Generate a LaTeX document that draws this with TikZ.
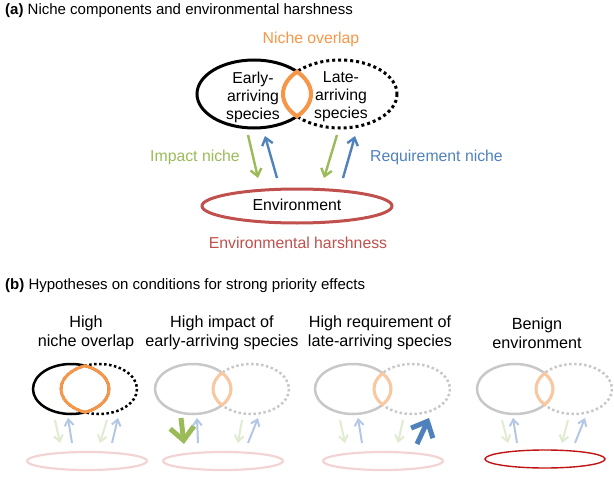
\documentclass[tikz,border=0pt]{standalone}
\usepackage{fontspec}
\setmainfont{Liberation Sans}
\usetikzlibrary{arrows.meta}
\definecolor{cgreen}{RGB}{155,187,89}
\definecolor{cblue}{RGB}{79,129,189}
\definecolor{cred}{RGB}{192,80,77}
\definecolor{corange}{RGB}{247,150,70}
\definecolor{fgray}{RGB}{200,200,200}
\definecolor{forange}{RGB}{250,200,160}
\definecolor{fgreen}{RGB}{225,235,210}
\definecolor{fblue}{RGB}{180,200,230}
\definecolor{fred}{RGB}{242,212,212}
\definecolor{dred}{RGB}{192,20,20}
\newcommand\ellpair[8]{%
  \draw[#6] (#1,#3) ellipse[x radius=#4, y radius=#5];
  \draw[#7] (#2,#3) ellipse[x radius=#4, y radius=#5];
  \pgfmathsetmacro\lensT{acos((#2-#1)/2/#4)}%
  \pgfmathsetmacro\lensM{(#1+#2)/2}%
  \pgfmathsetmacro\lensH{#5*sin(\lensT)}%
  \draw[#8] (\lensM,#3-\lensH) arc[start angle=-\lensT, end angle=\lensT, x radius=#4, y radius=#5]
     arc[start angle=180-\lensT, end angle=180+\lensT, x radius=#4, y radius=#5] -- cycle;
}
\tikzset{
  title/.style={anchor=west, inner sep=0pt, font=\fontsize{15}{17}\selectfont},
  lbl/.style={inner sep=0pt, font=\fontsize{15.8}{18}\selectfont, align=center},
  plbl/.style={inner sep=0pt, font=\fontsize{16.2}{19}\selectfont, align=center},
  bigarr/.style={line width=2.4pt, -{Straight Barb[length=7pt,width=11pt]}},
  smallarr/.style={line width=2pt, -{Straight Barb[length=6pt,width=9pt]}},
  thickarr/.style={line width=5pt, -{Straight Barb[length=13pt,width=24pt]}},
}
\begin{document}
\begin{tikzpicture}[x=1pt,y=-1pt]
\useasboundingbox (0,0) rectangle (614,479);
% ---------- (a)
\node[title] (ta) at (5,11) {\textbf{(a)} Niche components and environmental harshness};
\node[lbl, text=corange] (ov) at (311,39) {Niche overlap};
\ellpair{254}{340}{94}{57}{34}{line width=3pt}{line width=3pt, dash pattern=on 3pt off 3pt}{corange, line width=4pt}
\node[lbl] (early) at (253,97) {Early-\\arriving\\species};
\node[lbl] (late) at (341,97) {Late-\\arriving\\species};
\draw[cred, line width=3pt] (297,206) ellipse[x radius=95, y radius=17];
\node[lbl] (env) at (297,205) {Environment};
\node[lbl, text=cred] (harsh) at (298,243) {Environmental harshness};
\coordinate (g1a) at (248,135); \coordinate (g1b) at (258,178);
\coordinate (b1a) at (277,178); \coordinate (b1b) at (265,136);
\coordinate (g2a) at (337,135); \coordinate (g2b) at (324,178);
\coordinate (b2a) at (343,178); \coordinate (b2b) at (355,136);
\draw[bigarr, cgreen] (g1a) -- (g1b);
\draw[bigarr, cblue] (b1a) -- (b1b);
\draw[bigarr, cgreen] (g2a) -- (g2b);
\draw[bigarr, cblue] (b2a) -- (b2b);
\node[lbl, text=cgreen, anchor=east] (imp) at (240,157) {Impact niche};
\node[lbl, text=cblue, anchor=west] (req) at (370,157) {Requirement niche};
% ---------- (b)
\node[title] (tb) at (5,286) {\textbf{(b)} Hypotheses on conditions for strong priority effects};
\node[plbl] (h1) at (86,333) {High\\niche overlap};
\node[plbl] (h2) at (222,333) {High impact of\\early-arriving species};
\node[plbl] (h3) at (380,333) {High requirement of\\late-arriving species};
\node[plbl] (h4) at (537,333) {Benign\\environment};
% panel 1
\ellpair{71}{99}{389}{38}{25}{line width=2.5pt}{line width=2.5pt, dash pattern=on 2.5pt off 2.5pt}{corange, line width=3pt}
\draw[fred, line width=2.2pt] (87,461) ellipse[x radius=60, y radius=9];
\draw[smallarr, fgreen] (55,420) -- (60,443);
\draw[smallarr, fblue] (72,443) -- (68,418);
\draw[smallarr, fgreen] (107,420) -- (100,443);
\draw[smallarr, fblue] (112,443) -- (118,418);
% panel 2
\ellpair{193}{251}{389}{38}{25}{fgray, line width=2.5pt}{fgray, line width=2.5pt, dash pattern=on 2.5pt off 2.5pt}{forange, line width=3pt}
\draw[fred, line width=2.2pt] (223,461) ellipse[x radius=60, y radius=9];
\draw[thickarr, cgreen] (181,418) -- (184,444);
\draw[smallarr, fblue] (198,443) -- (197,418);
\draw[smallarr, fgreen] (242,420) -- (238,443);
\draw[smallarr, fblue] (248,443) -- (258,418);
% panel 3
\ellpair{353}{412}{389}{38}{25}{fgray, line width=2.5pt}{fgray, line width=2.5pt, dash pattern=on 2.5pt off 2.5pt}{forange, line width=3pt}
\draw[fred, line width=2.2pt] (383,461) ellipse[x radius=60, y radius=9];
\draw[smallarr, fgreen] (340,420) -- (345,443);
\draw[smallarr, fblue] (362,443) -- (358,418);
\draw[smallarr, fgreen] (403,420) -- (398,443);
\draw[thickarr, cblue] (417,444) -- (429,418);
% panel 4
\ellpair{515}{574}{389}{38}{25}{fgray, line width=2.5pt}{fgray, line width=2.5pt, dash pattern=on 2.5pt off 2.5pt}{forange, line width=3pt}
\draw[dred, line width=1.4pt] (545,459) ellipse[x radius=60, y radius=9];
\draw[smallarr, fgreen] (502,420) -- (508,443);
\draw[smallarr, fblue] (517,443) -- (513,418);
\draw[smallarr, fgreen] (568,420) -- (562,443);
\draw[smallarr, fblue] (575,443) -- (585,418);
\end{tikzpicture}
\end{document}
